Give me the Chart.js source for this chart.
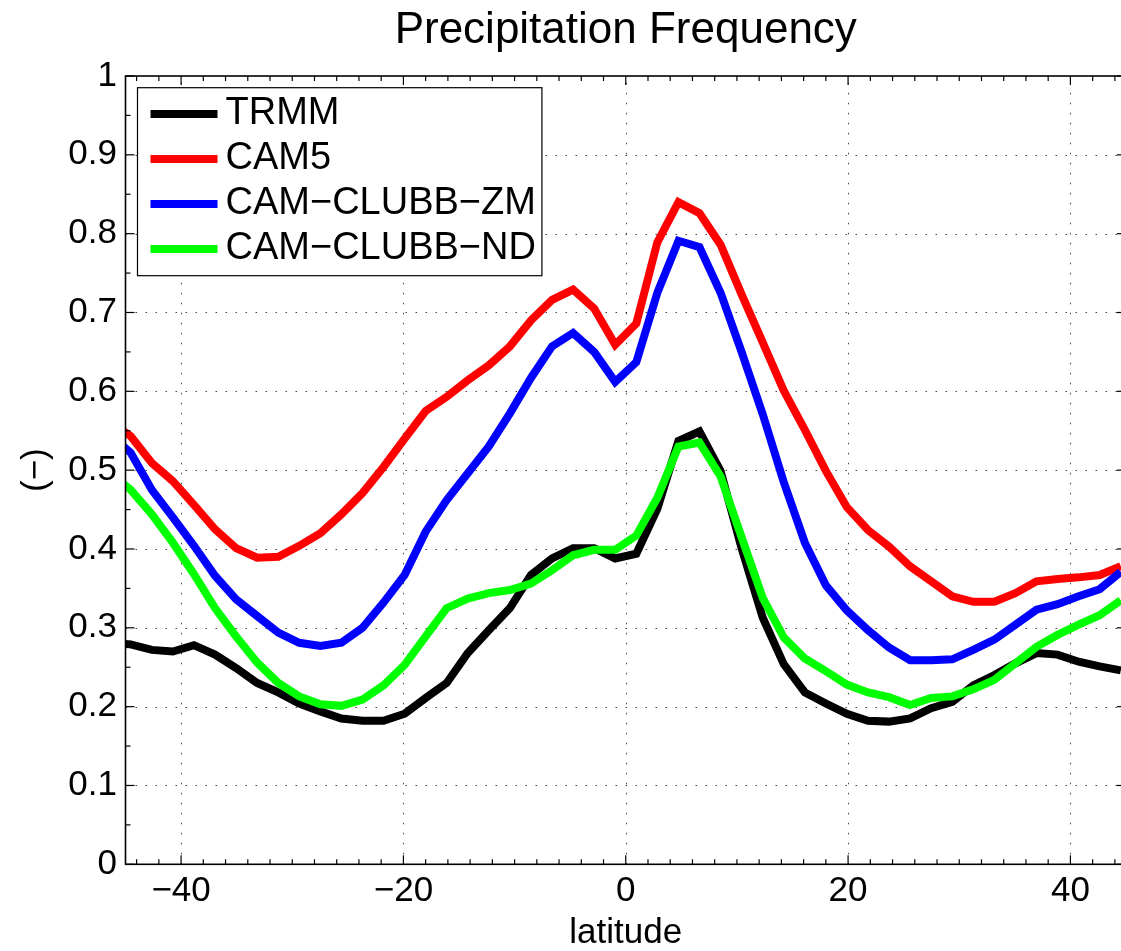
<!DOCTYPE html>
<html>
<head>
<meta charset="utf-8">
<script src="https://cdn.jsdelivr.net/npm/chart.js@4.4.1/dist/chart.umd.min.js"></script>
<style>
  html, body { margin: 0; padding: 0; background: #fff; overflow: hidden; }
  #wrap { width: 1121px; height: 951px; overflow: hidden; }
  canvas { display: block; }
</style>
</head>
<body>
<div id="wrap"><canvas id="chart" width="1130" height="951"></canvas></div>
<script>
// latitudes (1.9 deg grid), first point sits just outside the axis and gets clipped
const lat = [-46.42, -44.53, -42.63, -40.74, -38.84, -36.95, -35.05, -33.16, -31.26, -29.37, -27.47,
  -25.58, -23.68, -21.79, -19.89, -18.00, -16.11, -14.21, -12.32, -10.42, -8.53, -6.63, -4.74,
  -2.84, -0.95, 0.95, 2.84, 4.74, 6.63, 8.53, 10.42, 12.32, 14.21, 16.11, 18.00, 19.89, 21.79,
  23.68, 25.58, 27.47, 29.37, 31.26, 33.16, 35.05, 36.95, 38.84, 40.74, 42.63, 44.53];

const trmm = [0.281, 0.279, 0.272, 0.270, 0.278, 0.266, 0.249, 0.230, 0.218, 0.204, 0.194,
  0.185, 0.182, 0.182, 0.191, 0.211, 0.230, 0.268, 0.297, 0.325, 0.367, 0.388, 0.401,
  0.401, 0.388, 0.394, 0.451, 0.537, 0.549, 0.499, 0.401, 0.313, 0.254, 0.218, 0.204, 0.191, 0.182,
  0.181, 0.185, 0.198, 0.206, 0.227, 0.240, 0.255, 0.268, 0.266, 0.257, 0.251, 0.246];

const cam5 = [0.562, 0.543, 0.509, 0.486, 0.456, 0.425, 0.401, 0.389, 0.390, 0.404, 0.420,
  0.444, 0.471, 0.504, 0.540, 0.575, 0.593, 0.614, 0.633, 0.657, 0.690, 0.716, 0.729,
  0.705, 0.659, 0.686, 0.789, 0.840, 0.826, 0.786, 0.723, 0.662, 0.601, 0.551, 0.499, 0.453, 0.424,
  0.403, 0.378, 0.359, 0.340, 0.333, 0.333, 0.344, 0.359, 0.362, 0.364, 0.367, 0.378];

const clubbZm = [0.545, 0.522, 0.475, 0.440, 0.404, 0.366, 0.336, 0.315, 0.294, 0.281, 0.277,
  0.281, 0.300, 0.332, 0.367, 0.422, 0.462, 0.496, 0.530, 0.572, 0.617, 0.657, 0.674,
  0.650, 0.612, 0.637, 0.725, 0.791, 0.783, 0.725, 0.650, 0.571, 0.485, 0.408, 0.354, 0.322, 0.297,
  0.275, 0.259, 0.259, 0.260, 0.272, 0.285, 0.304, 0.323, 0.330, 0.340, 0.349, 0.371];

const clubbNd = [0.497, 0.475, 0.444, 0.408, 0.368, 0.325, 0.289, 0.256, 0.230, 0.213, 0.203,
  0.201, 0.209, 0.227, 0.253, 0.289, 0.325, 0.337, 0.344, 0.348, 0.356, 0.373, 0.392,
  0.399, 0.399, 0.417, 0.465, 0.530, 0.535, 0.492, 0.415, 0.338, 0.288, 0.261, 0.245, 0.228, 0.218,
  0.212, 0.202, 0.211, 0.213, 0.222, 0.234, 0.255, 0.276, 0.291, 0.304, 0.316, 0.335];

const xTicks = [-40, -20, 0, 20, 40];
const yTicks = [0, 0.1, 0.2, 0.3, 0.4, 0.5, 0.6, 0.7, 0.8, 0.9, 1];
const xMinor = [-44, -42, -38, -36, -34, -32, -30, -28, -26, -24, -22, -18, -16, -14, -12, -10, -8, -6, -4, -2,
  2, 4, 6, 8, 10, 12, 14, 16, 18, 22, 24, 26, 28, 30, 32, 34, 36, 38, 42, 44];
const yMinor = [0.05, 0.15, 0.25, 0.35, 0.45, 0.55, 0.65, 0.75, 0.85, 0.95];

const FONT = "'Liberation Sans', Arial, Helvetica, sans-serif";
const MINUS = '\u2212';

const pts = (ys) => lat.map((x, i) => ({x: x, y: ys[i]}));

// dotted grid, box and inward ticks like the matlab axes
const ejesMatlab = {
  id: 'ejesMatlab',
  beforeDatasetsDraw(chart) {
    const {ctx, chartArea: ca, scales: {x, y}} = chart;
    ctx.save();
    ctx.strokeStyle = '#444';
    ctx.lineWidth = 1;
    ctx.setLineDash([1.5, 8.5]);
    xTicks.forEach(v => {
      const px = Math.round(x.getPixelForValue(v)) + 0.5;
      ctx.beginPath(); ctx.moveTo(px, ca.bottom); ctx.lineTo(px, ca.top); ctx.stroke();
    });
    yTicks.slice(1, -1).forEach(v => {
      const py = Math.round(y.getPixelForValue(v)) + 0.5;
      ctx.beginPath(); ctx.moveTo(ca.left, py); ctx.lineTo(ca.right, py); ctx.stroke();
    });
    ctx.restore();
  },
  afterDatasetsDraw(chart) {
    const {ctx, chartArea: ca, scales: {x, y}} = chart;
    ctx.save();
    ctx.strokeStyle = '#000';
    ctx.lineWidth = 1.2;
    const tick = (x0, y0, x1, y1) => { ctx.beginPath(); ctx.moveTo(x0, y0); ctx.lineTo(x1, y1); ctx.stroke(); };
    xTicks.forEach(v => {
      const px = x.getPixelForValue(v);
      tick(px, ca.bottom, px, ca.bottom - 9); tick(px, ca.top, px, ca.top + 9);
    });
    xMinor.forEach(v => {
      const px = x.getPixelForValue(v);
      tick(px, ca.bottom, px, ca.bottom - 5); tick(px, ca.top, px, ca.top + 5);
    });
    yTicks.forEach(v => {
      const py = y.getPixelForValue(v);
      tick(ca.left, py, ca.left + 9, py); tick(ca.right, py, ca.right - 9, py);
    });
    yMinor.forEach(v => {
      const py = y.getPixelForValue(v);
      tick(ca.left, py, ca.left + 5, py); tick(ca.right, py, ca.right - 5, py);
    });
    ctx.lineWidth = 1.6;
    ctx.strokeRect(ca.left, ca.top, ca.right - ca.left, ca.bottom - ca.top);
    ctx.restore();
  },
  afterDraw(chart) {
    // leyenda dentro del area, arriba a la izquierda
    const {ctx, chartArea: ca} = chart;
    const sets = chart.data.datasets;
    ctx.save();
    ctx.font = '38px ' + FONT;
    const maxW = Math.max(...sets.map(d => ctx.measureText(d.label).width));
    const bx = ca.left + 12, by = ca.top + 11.7;
    const w = 88 + maxW + 6, h = 188;
    ctx.fillStyle = '#fff';
    ctx.fillRect(bx, by, w, h);
    ctx.strokeStyle = '#000';
    ctx.lineWidth = 1.2;
    ctx.strokeRect(bx, by, w, h);
    sets.forEach((d, i) => {
      const ly = by + 26.3 + 45 * i;
      ctx.strokeStyle = d.borderColor;
      ctx.lineWidth = 8;
      ctx.beginPath(); ctx.moveTo(bx + 13, ly); ctx.lineTo(bx + 80, ly); ctx.stroke();
      ctx.fillStyle = '#000';
      ctx.textBaseline = 'middle';
      ctx.textAlign = 'left';
      ctx.fillText(d.label, bx + 88, ly);
    });
    ctx.restore();
  }
};

const serie = (label, ys, color, order) => ({
  label: label,
  data: pts(ys),
  borderColor: color,
  backgroundColor: color,
  borderWidth: 8,
  pointRadius: 0,
  borderJoinStyle: 'miter',
  tension: 0,
  fill: false,
  clip: 0,
  order: order
});

new Chart(document.getElementById('chart'), {
  type: 'line',
  data: {
    datasets: [
      serie('TRMM', trmm, '#000000', 3),
      serie('CAM5', cam5, '#ff0000', 2),
      serie('CAM' + MINUS + 'CLUBB' + MINUS + 'ZM', clubbZm, '#0000ff', 1),
      serie('CAM' + MINUS + 'CLUBB' + MINUS + 'ND', clubbNd, '#00ff00', 0)
    ]
  },
  options: {
    responsive: false,
    animation: false,
    devicePixelRatio: 1,
    layout: { padding: { left: 0, right: 4, top: 0, bottom: 0 } },
    plugins: {
      legend: { display: false },
      tooltip: { enabled: false },
      title: {
        display: true,
        fullSize: false,
        text: 'Precipitation Frequency',
        color: '#000',
        font: { family: FONT, size: 44, weight: 'normal', lineHeight: 1 },
        padding: { top: 9, bottom: 23 }
      }
    },
    scales: {
      x: {
        type: 'linear',
        min: -45,
        max: 45,
        afterBuildTicks: s => { s.ticks = xTicks.map(v => ({value: v})); },
        afterFit: s => { s.height = 86.7; },
        grid: { display: false, drawTicks: false },
        border: { display: false },
        ticks: {
          color: '#000',
          font: { family: FONT, size: 35 },
          padding: 6,
          maxRotation: 0,
          autoSkip: false,
          callback: v => v < 0 ? MINUS + Math.abs(v) : String(v)
        },
        title: {
          display: true,
          text: 'latitude',
          color: '#000',
          font: { family: FONT, size: 35, lineHeight: 1 },
          padding: { top: 0, bottom: 0 }
        }
      },
      y: {
        min: 0,
        max: 1,
        afterBuildTicks: s => { s.ticks = yTicks.map(v => ({value: v})); },
        afterFit: s => { s.width = 125.5; },
        grid: { display: false, drawTicks: false },
        border: { display: false },
        ticks: {
          color: '#000',
          font: { family: FONT, size: 35 },
          padding: 8.5,
          autoSkip: false,
          callback: v => (v === 0 || v === 1) ? String(v) : v.toFixed(1)
        },
        title: {
          display: true,
          text: '(' + MINUS + ')',
          color: '#000',
          font: { family: FONT, size: 35, lineHeight: 1 },
          padding: { top: 18.5, bottom: 0 }
        }
      }
    }
  },
  plugins: [ejesMatlab]
});
</script>
</body>
</html>
